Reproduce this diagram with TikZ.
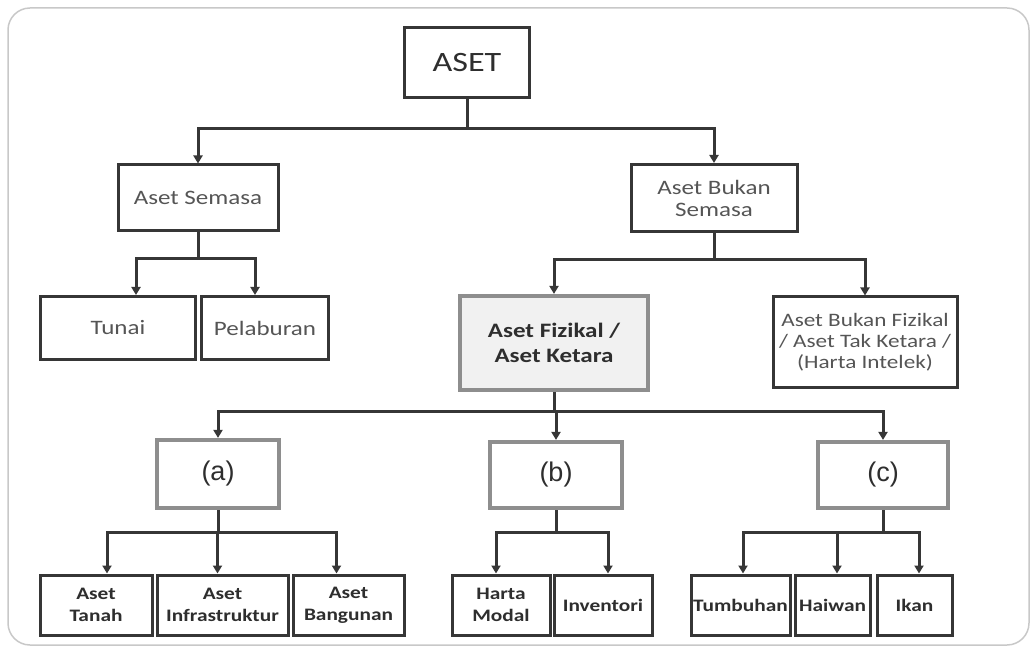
\documentclass[tikz,border=0pt]{standalone}
\usepackage{fontspec}
\setmainfont{Carlito}[FakeStretch=1.22]
\newfontfamily\arialfont{Liberation Sans}
\usetikzlibrary{arrows.meta}
\definecolor{inkline}{HTML}{363636}
\definecolor{graybord}{HTML}{8E8E8E}
\definecolor{softfill}{HTML}{F1F1F1}
\definecolor{framegray}{HTML}{C8C8C8}
\definecolor{lighttext}{HTML}{555555}
\definecolor{darktext}{HTML}{2E2E2E}

\begin{document}
\begin{tikzpicture}[x=1pt,y=-1pt,
  box/.style={draw=inkline,line width=3pt,fill=white,inner sep=0pt,align=center,
    text=lighttext,font=\fontsize{20.5}{22}\selectfont},
  graybox/.style={box,draw=graybord,line width=4.2pt,text=darktext,
    font=\arialfont\fontsize{27}{30}\selectfont},
  leaf/.style={box,minimum height=60,text=darktext,
    font=\fontsize{17.5}{22}\selectfont\bfseries},
  link/.style={draw=inkline,line width=3pt,-{Triangle[length=8pt,width=9pt]}}]
  \useasboundingbox (0,0) rectangle (1036,652);
  \draw[framegray,line width=1.5pt,rounded corners=22] (8,8) rectangle (1029,645);

  \node[box,minimum width=125,minimum height=70,text=darktext,
    font=\fontsize{28}{30}\selectfont] (aset) at (467,63) {ASET};
  \node[box,minimum width=160,minimum height=66] (semasa) at (198,198) {Aset Semasa};
  \node[box,minimum width=166,minimum height=67] (bsemasa) at (714,198) {Aset Bukan\\Semasa};
  \node[box,minimum width=155,minimum height=63] (tunai) at (118,328) {Tunai};
  \node[box,minimum width=127,minimum height=63] (pelaburan) at (265,328) {Pelaburan};
  \node[box,draw=graybord,line width=4.2pt,fill=softfill,text=darktext,
    minimum width=188,minimum height=94,
    font=\fontsize{20.5}{25}\selectfont\bfseries] (fizikal) at (554,343) {Aset Fizikal~/\\Aset Ketara};
  \node[box,minimum width=184,minimum height=90,font=\fontsize{19}{21}\selectfont] (bfizikal) at (865,342)
    {Aset Bukan Fizikal\\/ Aset Tak Ketara /\\(Harta Intelek)};
  \node[graybox,minimum width=122,minimum height=68] (pa) at (218,474) {(a)};
  \node[graybox,minimum width=132,minimum height=66] (pb) at (556,475) {(b)};
  \node[graybox,minimum width=130,minimum height=66] (pc) at (883,475) {(c)};
  \node[leaf,minimum width=112] (tanah) at (96,605) {Aset\\Tanah};
  \node[leaf,minimum width=131] (infra) at (222.5,605) {Aset\\Infrastruktur};
  \node[leaf,minimum width=111] (bangunan) at (348.5,605) {Aset\\Bangunan};
  \node[leaf,minimum width=98] (harta) at (501,605) {Harta\\Modal};
  \node[leaf,minimum width=98] (inventori) at (603,605) {Inventori};
  \node[leaf,minimum width=99] (tumbuhan) at (740.5,605) {Tumbuhan};
  \node[leaf,minimum width=75] (haiwan) at (832.5,605) {Haiwan};
  \node[leaf,minimum width=75] (ikan) at (914.5,605) {Ikan};

  \draw[link] (aset.south) -- ++(0,29) -| (semasa.north);
  \draw[link] (aset.south) -- ++(0,29) -| (bsemasa.north);
  \draw[link] (semasa.south) -- ++(0,26) -| ([xshift=18]tunai.north);
  \draw[link] (semasa.south) -- ++(0,26) -| ([xshift=-10]pelaburan.north);
  \draw[link] (bsemasa.south) -- ++(0,27) -| (fizikal.north);
  \draw[link] (bsemasa.south) -- ++(0,27) -| (bfizikal.north);
  \draw[link] (fizikal.south) -- ++(0,19) -| (pa.north);
  \draw[link] (fizikal.south) -- ++(0,19) -| (pb.north);
  \draw[link] (fizikal.south) -- ++(0,19) -| (pc.north);
  \draw[link] (pa.south) -- ++(0,22) -| ([xshift=11]tanah.north);
  \draw[link] (pa.south) -- ++(0,22) -| ([xshift=-5]infra.north);
  \draw[link] (pa.south) -- ++(0,22) -| ([xshift=-12]bangunan.north);
  \draw[link] (pb.south) -- ++(0,22) -| ([xshift=-5]harta.north);
  \draw[link] (pb.south) -- ++(0,22) -| ([xshift=5]inventori.north);
  \draw[link] (pc.south) -- ++(0,22) -| ([xshift=2.5]tumbuhan.north);
  \draw[link] (pc.south) -- ++(0,22) -| ([xshift=4.5]haiwan.north);
  \draw[link] (pc.south) -- ++(0,22) -| ([xshift=4.5]ikan.north);
\end{tikzpicture}
\end{document}
